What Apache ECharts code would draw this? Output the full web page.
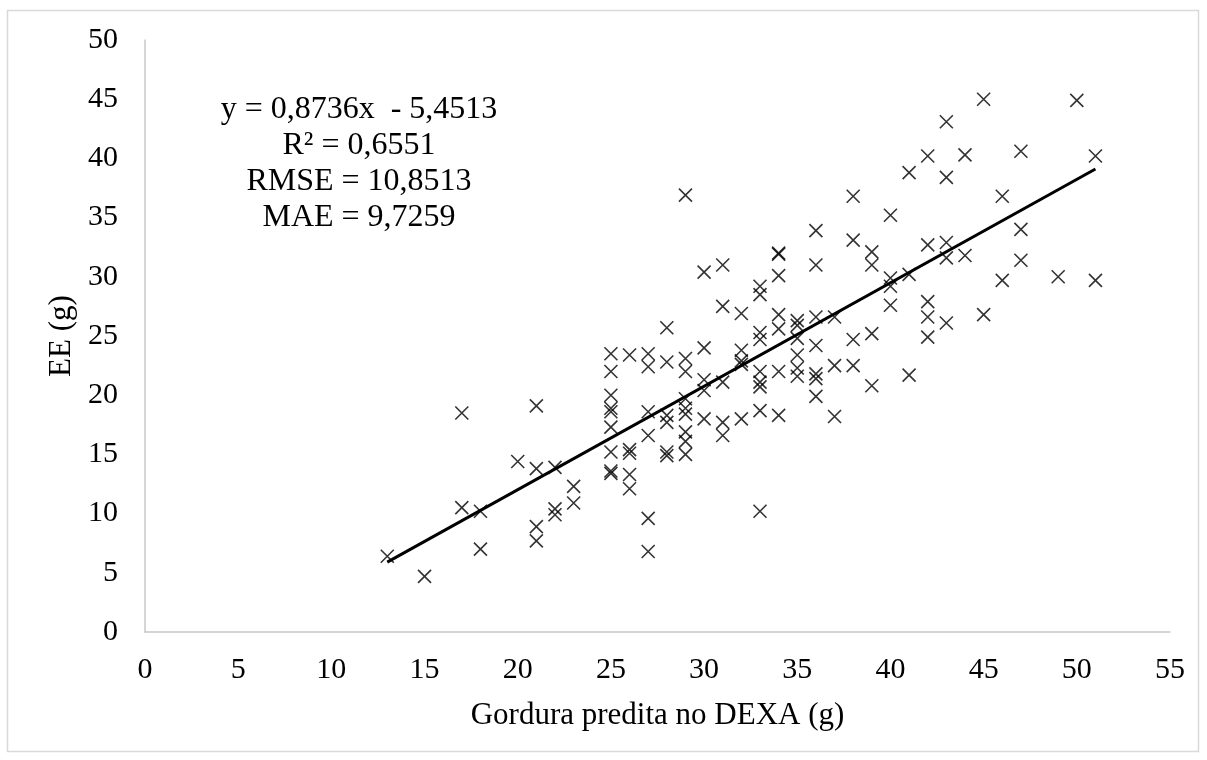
<!DOCTYPE html>
<html>
<head>
<meta charset="utf-8">
<script src="https://cdn.jsdelivr.net/npm/echarts@6/dist/echarts.min.js"></script>
<style>
  html, body { margin: 0; padding: 0; background: #fff; }
  #chart { width: 1207px; height: 760px; }
</style>
</head>
<body>
<div id="chart"></div>
<script>
// Gordura predita no DEXA (g) -> x, EE (g) -> y, one entry per point
const dexaX = [
  13, 15, 17, 17, 18, 18, 20, 21, 21, 21, 21, 22, 22, 22, 23, 23,
  25, 25, 25, 25, 25, 25, 25, 25, 25,
  26, 26, 26, 26, 26,
  27, 27, 27, 27, 27, 27,
  28, 28, 28, 28, 28, 28,
  29, 29, 29, 29, 29, 29, 29, 29, 29,
  30, 30, 30, 30, 30,
  31, 31, 31, 31, 31,
  32, 32, 32, 32, 32,
  33, 33, 33, 33, 33, 33, 33, 33, 33,
  34, 34, 34, 34, 34, 34, 34,
  35, 35, 35, 35, 35, 35,
  36, 36, 36, 36, 36, 36, 36,
  37, 37, 37,
  38, 38, 38, 38,
  39, 39, 39, 39,
  40, 40, 40, 40,
  41, 41, 41,
  42, 42, 42, 42, 42,
  43, 43, 43, 43, 43,
  44, 44, 45, 45, 46, 46, 47, 47, 47, 49, 50, 51, 51
];
const eeY = [
  6.4, 4.7, 18.5, 10.5, 10.2, 7.0, 14.4, 19.1, 13.8, 8.9, 7.7, 13.9, 10.4, 9.9, 12.3, 10.9,
  23.5, 22.0, 20.0, 18.9, 18.6, 17.3, 15.2, 13.6, 13.4,
  23.4, 15.4, 15.1, 13.3, 12.1,
  23.5, 22.4, 18.6, 16.6, 9.6, 6.8,
  25.7, 22.8, 18.3, 17.7, 15.2, 14.9,
  36.9, 23.1, 22.0, 19.7, 18.9, 18.4, 16.9, 16.1, 15.0,
  30.4, 24.0, 21.3, 20.4, 18.0,
  31.0, 27.5, 21.1, 17.7, 16.6,
  26.9, 23.8, 22.9, 22.6, 18.0,
  29.2, 28.5, 25.3, 24.7, 22.0, 21.1, 20.7, 18.7, 10.2,
  32.0, 31.9, 30.1, 26.8, 25.6, 22.0, 18.3,
  26.3, 25.9, 24.8, 23.4, 22.3, 21.6,
  33.9, 31.0, 26.6, 24.2, 21.8, 21.4, 19.9,
  26.6, 22.5, 18.2,
  36.8, 33.1, 24.7, 22.5,
  32.1, 31.0, 25.2, 20.8,
  35.2, 29.9, 29.2, 27.6,
  38.8, 30.2, 21.7,
  40.2, 32.7, 27.9, 26.6, 24.9,
  43.1, 38.4, 32.9, 31.6, 26.1,
  40.3, 31.8, 45.0, 26.8, 36.8, 29.7, 40.6, 34.0, 31.4, 30.0, 44.9, 40.2, 29.7
];

// linear trend line ends
const trendX = [13, 51];
const trendY = [5.9, 39.1];

const statsLines = [
  'y = 0,8736x  - 5,4513',
  'R² = 0,6551',
  'RMSE = 10,8513',
  'MAE = 9,7259'
];

const font = '"Liberation Serif", "Times New Roman", serif';
const chart = echarts.init(document.getElementById('chart'));

const option = {
  animation: false,
  backgroundColor: '#fff',
  grid: { left: 145, right: 37, top: 40, bottom: 128 },
  xAxis: {
    type: 'value',
    min: 0, max: 55, interval: 5,
    name: 'Gordura predita no DEXA (g)',
    nameLocation: 'middle',
    nameGap: 68,
    nameTextStyle: { fontFamily: font, fontSize: 31, color: '#000' },
    axisLine: { show: true, lineStyle: { color: '#c8c8c8', width: 1.5 } },
    axisTick: { show: false },
    splitLine: { show: false },
    axisLabel: { fontFamily: font, fontSize: 30, color: '#000', margin: 23 }
  },
  yAxis: {
    type: 'value',
    min: 0, max: 50, interval: 5,
    name: 'EE (g)',
    nameLocation: 'middle',
    nameGap: 68,
    nameTextStyle: { fontFamily: font, fontSize: 31, color: '#000' },
    axisLine: { show: true, lineStyle: { color: '#c8c8c8', width: 1.5 } },
    axisTick: { show: false },
    splitLine: { show: false },
    axisLabel: { fontFamily: font, fontSize: 30, color: '#000', margin: 27 }
  },
  series: [
    {
      type: 'scatter',
      data: dexaX.map((x, i) => [x, eeY[i]]),
      symbol: 'path://M0,0L10,10M10,0L0,10',
      symbolSize: 13,
      itemStyle: { color: 'rgba(0,0,0,0)', borderColor: '#000', borderWidth: 1.6 }
    },
    {
      type: 'line',
      data: trendX.map((x, i) => [x, trendY[i]]),
      symbol: 'none',
      lineStyle: { color: '#000', width: 3 },
      z: 3
    }
  ],
  graphic: [
    {
      type: 'rect',
      shape: { x: 7.5, y: 10.5, width: 1191, height: 741 },
      style: { fill: 'none', stroke: '#d9d9d9', lineWidth: 1.5 },
      silent: true
    },
    {
      type: 'text',
      x: 359, y: 92,
      style: {
        text: statsLines.join('\n'),
        font: '32px ' + font,
        fill: '#000',
        align: 'center',
        verticalAlign: 'top',
        lineHeight: 36
      }
    }
  ]
};

chart.setOption(option);
</script>
</body>
</html>
